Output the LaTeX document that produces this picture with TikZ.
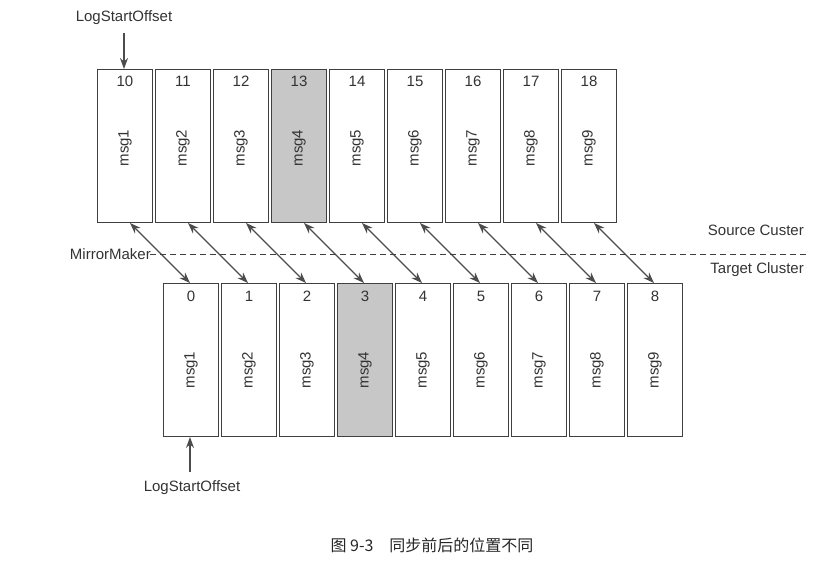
\documentclass[tikz,border=0pt]{standalone}
\usepackage{fontspec}
\setmainfont{Liberation Sans}
\newfontfamily\cjk{Noto Sans CJK SC}
\usetikzlibrary{arrows.meta}
\begin{document}
\begin{tikzpicture}[x=1pt,y=-1pt,
  cell/.style={draw=black!75,line width=1pt,minimum width=55pt,minimum height=153pt,inner sep=0pt,fill=white},
  hl/.style={fill=black!22},
  lbl/.style={font=\fontsize{15}{17}\selectfont,text=black!80},
  conn/.style={{Stealth[length=11pt,width=8pt]}-{Stealth[length=11pt,width=8pt]},draw=black!70,line width=1.3pt},
  ptr/.style={-{Stealth[length=11pt,width=8pt]},draw=black!70,line width=1.3pt}]
\useasboundingbox (0,0) rectangle (816,578);
\foreach \i/\n in {0/10,1/11,2/12,3/13,4/14,5/15,6/16,7/17,8/18}{
  \pgfmathtruncatemacro{\m}{\i+1}
  \ifnum\i=3
    \node[cell,hl,anchor=north west] (t\i) at ({97+58*\i},69) {};
  \else
    \node[cell,anchor=north west] (t\i) at ({97+58*\i},69) {};
  \fi
  \node[lbl] (tn\i) at ([yshift=-12pt]t\i.north) {\n};
  \node[lbl,rotate=90] (tm\i) at ([yshift=-2pt]t\i.center) {msg\m};
  \ifnum\i=3
    \node[cell,hl,anchor=north west] (b\i) at ({163+58*\i},283) {};
  \else
    \node[cell,anchor=north west] (b\i) at ({163+58*\i},283) {};
  \fi
  \node[lbl] (bn\i) at ([yshift=-13pt]b\i.north) {\i};
  \node[lbl,rotate=90] (bm\i) at ([yshift=-10pt]b\i.center) {msg\m};
  \draw[conn] ([xshift=5pt]t\i.south) -- ([xshift=-1pt]b\i.north);
}
\coordinate (dl) at (150,254);
\coordinate (dr) at (806,254);
\draw[dashed,draw=black!75,line width=1pt,dash pattern=on 6pt off 4pt] (dl) -- (dr);
\node[lbl,anchor=east,inner sep=0pt] (mm) at (151,254) {MirrorMaker};
\node[lbl,anchor=east,inner sep=0pt] (sc) at (804,230) {Source Custer};
\node[lbl,anchor=east,inner sep=0pt] (tc) at (804,270) {Target Cluster};
\node[lbl,inner sep=0pt] (ls1) at (124,18) {LogStartOffset};
\draw[ptr] (124,33) -- ([xshift=27pt]t0.north west);
\node[lbl,inner sep=0pt] (ls2) at (192,488) {LogStartOffset};
\coordinate (p2) at (190,472);
\draw[ptr] (p2) -- (b0.south -| p2);
\node[font=\cjk\fontsize{16}{18}\selectfont,text=black!85] (cap) at (432,545) {图 9-3\quad 同步前后的位置不同};
\end{tikzpicture}
\end{document}
